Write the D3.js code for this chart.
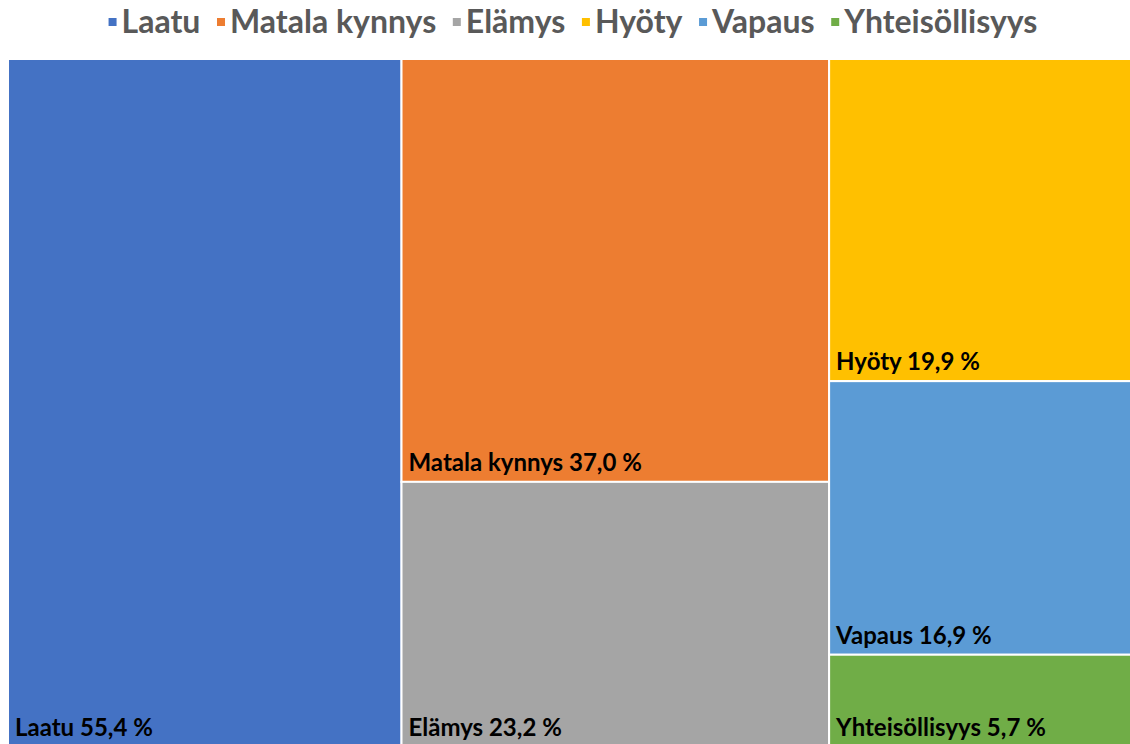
<!DOCTYPE html>
<html>
<head>
<meta charset="utf-8">
<script src="https://cdn.jsdelivr.net/npm/d3@7"></script>
<style>
  body { margin: 0; background: #fff; }
  svg { display: block; font-family: Lato, "Open Sans", sans-serif; }
</style>
</head>
<body>
<script>
// treemap data, grouped in columns like the original
var names = ["Laatu", "Matala kynnys", "Elämys", "Hyöty", "Vapaus", "Yhteisöllisyys"];
var values = [55.4, 37.0, 23.2, 19.9, 16.9, 5.7];
var columns = [[0], [1, 2], [3, 4, 5]];
var colors = ["#4472C4", "#ED7D31", "#A5A5A5", "#FFC000", "#5B9BD5", "#70AD47"];

(function() {
  var width = 1130;
  var height = 744;

  var svg = d3.select("body")
    .append("svg")
    .attr("width", width)
    .attr("height", height)

  var fmt = function(v) { return d3.format(".1f")(v).replace(".", ",") + " %"; }

  var root = d3.hierarchy({
      children: columns.map(function(col) {
        return { children: col.map(function(i) { return { name: names[i], value: values[i], idx: i }; }) };
      })
    })
    .sum(function(d) { return d.value || 0; })

  d3.treemap()
    .tile(d3.treemapSliceDice) // columns first, then stacked
    .size([1131 - 8, 747 - 59])(root)

  var plot = svg.append("g").attr("transform", "translate(8,59)")

  var cell = plot.selectAll(".cell")
    .data(root.leaves())
    .enter().append("g")
    .attr("class", "cell")

  cell.append("rect")
    .attr("x", function(d) { return d.x0; })
    .attr("y", function(d) { return d.y0; })
    .attr("width", function(d) { return d.x1 - d.x0; })
    .attr("height", function(d) { return d.y1 - d.y0; })
    .attr("fill", function(d) { return colors[d.data.idx]; })
    .attr("stroke", "#fff")
    .attr("stroke-width", 2)

  cell.append("text")
    .attr("x", function(d) { return d.x0 + 7; })
    .attr("y", function(d) { return d.y1 - 11; })
    .attr("font-size", 24)
    .attr("font-weight", "bold")
    .attr("fill", "#000")
    .text(function(d) { return d.data.name + " " + fmt(d.data.value); })

  // legend on top, centred
  var gap = 16.6;
  var legend = svg.append("g")
  var x = 0;
  names.forEach(function(n, i) {
    var item = legend.append("g").attr("transform", "translate(" + x + ",0)")
    item.append("rect")
      .attr("x", 0).attr("y", 18)
      .attr("width", 8).attr("height", 8)
      .attr("fill", colors[i])
    var t = item.append("text")
      .attr("x", 13).attr("y", 33)
      .attr("font-size", 32)
      .attr("font-weight", "bold")
      .attr("fill", "#595959")
      .text(n)
    x += 13 + t.node().getComputedTextLength() + gap;
  })
  var lw = x - gap;
  legend.attr("transform", "translate(" + (573 - lw / 2) + ",0)")
})();
</script>
</body>
</html>
